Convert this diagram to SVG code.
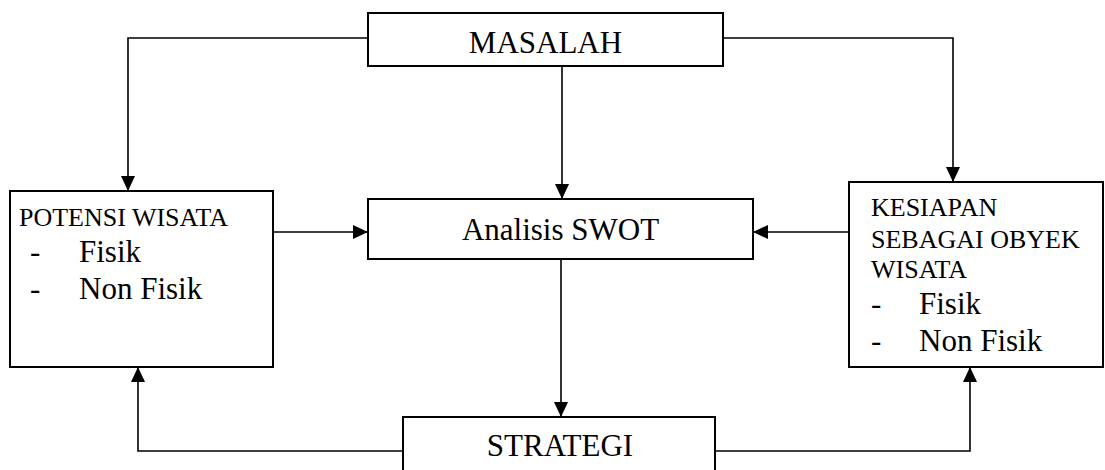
<svg xmlns="http://www.w3.org/2000/svg" width="1105" height="470" viewBox="0 0 1105 470">
<style>
.box{fill:#fff;stroke:#000;stroke-width:2}
.con{fill:none;stroke:#000;stroke-width:1.6}
.t{font-family:'Liberation Serif','Times New Roman','DejaVu Serif',serif;fill:#000}
.big{font-size:31px}
.small{font-size:26px}
</style>
<defs>
<marker id="arr" markerUnits="userSpaceOnUse" markerWidth="15" markerHeight="14" refX="15" refY="7" orient="auto" viewBox="0 0 15 14">
<path d="M0,0 L15,7 L0,14 z" fill="#000"/>
</marker>
</defs>
<rect width="1105" height="470" fill="#fff"/>
<g id="connectors">
<polyline class="con" points="368,38 128,38 128,191" marker-end="url(#arr)"/>
<polyline class="con" points="723,38 953,38 953,182" marker-end="url(#arr)"/>
<line class="con" x1="562" y1="66" x2="562" y2="199" marker-end="url(#arr)"/>
<line class="con" x1="273" y1="232" x2="368" y2="232" marker-end="url(#arr)"/>
<line class="con" x1="849" y1="232" x2="753" y2="232" marker-end="url(#arr)"/>
<line class="con" x1="561" y1="260" x2="561" y2="417" marker-end="url(#arr)"/>
<polyline class="con" points="403,451 138,451 138,367" marker-end="url(#arr)"/>
<polyline class="con" points="715,451 970,451 970,367" marker-end="url(#arr)"/>
</g>
<g id="masalah">
<rect class="box" x="368" y="13" width="355" height="53"/>
<text class="t big" font-family="Liberation Serif, serif" x="545.5" y="53" text-anchor="middle">MASALAH</text>
</g>
<g id="potensi">
<rect class="box" x="10" y="191" width="263" height="176"/>
<text class="t small" x="19" y="226">POTENSI WISATA</text>
<text class="t big" x="30" y="262">-</text>
<text class="t big" x="79" y="262">Fisik</text>
<text class="t big" x="30" y="299">-</text>
<text class="t big" x="79" y="299">Non Fisik</text>
</g>
<g id="swot">
<rect class="box" x="368" y="199" width="385" height="60"/>
<text class="t big" x="560.5" y="240" text-anchor="middle">Analisis SWOT</text>
</g>
<g id="kesiapan">
<rect class="box" x="849" y="182" width="254" height="185"/>
<text class="t small" x="871" y="216">KESIAPAN</text>
<text class="t small" x="871" y="248">SEBAGAI OBYEK</text>
<text class="t small" x="871" y="278">WISATA</text>
<text class="t big" x="871" y="314">-</text>
<text class="t big" x="919" y="314">Fisik</text>
<text class="t big" x="871" y="351">-</text>
<text class="t big" x="919" y="351">Non Fisik</text>
</g>
<g id="strategi">
<rect class="box" x="403" y="417" width="312" height="63"/>
<text class="t big" x="560" y="456" text-anchor="middle">STRATEGI</text>
</g>
</svg>
